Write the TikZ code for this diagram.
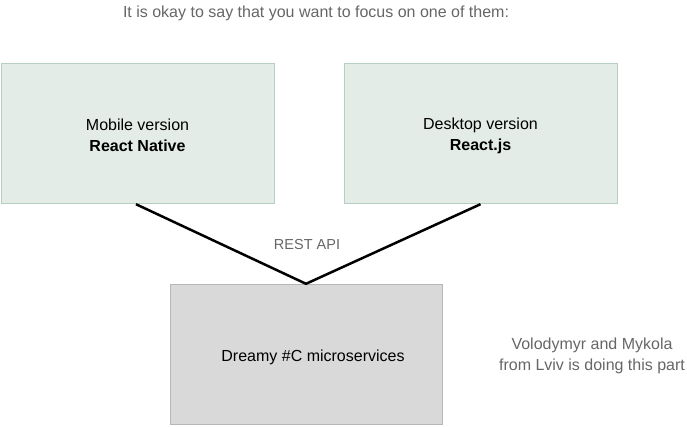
\documentclass[tikz,border=0pt]{standalone}
\usepackage{fontspec}
\setmainfont{Liberation Sans}
\usetikzlibrary{positioning, calc}

\definecolor{boxgreen}{HTML}{E3ECE6}
\definecolor{linegreen}{HTML}{B6CFC0}
\definecolor{boxgray}{HTML}{D9D9D9}
\definecolor{linegray}{HTML}{B7B7B7}
\definecolor{textgray}{HTML}{666666}

\begin{document}
\begin{tikzpicture}[x=1pt, y=-1pt,
	client/.style={draw=linegreen, fill=boxgreen, minimum width=273pt, minimum height=140pt},
	server/.style={draw=linegray, fill=boxgray, minimum width=272pt, minimum height=140pt},
	boxtext/.style={align=center, font=\fontsize{16}{21}\selectfont},
	note/.style={text=textgray, align=center, font=\fontsize{16}{21}\selectfont}]
			\useasboundingbox (0,0) rectangle (687,426);
			\node (title) [note] at (316,13) {It is okay to say that you want to focus on one of them:};
			\node (mobile) [client] at (137.5,133) {};
			\node (desktop) [client] at (480.5,133) {};
			\node (backend) [server] at (306,354) {};
			\node (mobiletext) [boxtext] at ($(mobile)+(0,2.5)$) {Mobile version\\\textbf{React Native}};
			\node (desktoptext) [boxtext] at ($(desktop)+(0,2.5)$) {Desktop version\\\textbf{React.js}};
			\node (backendtext) [boxtext] at ($(backend)+(7,3)$) {Dreamy \#C microservices};
			\node (api) [note, font=\fontsize{14.5}{21}\selectfont] at (307,245) {REST API};
			\node (team) [note] at (592,356) {Volodymyr and Mykola\\from Lviv is doing this part};
			
			\draw [line width=2.5pt, line join=miter] ($(mobile.south)+(-1.5,1)$) -- (backend.north) -- ($(desktop.south)+(0,1)$);
		\end{tikzpicture}
\end{document}
